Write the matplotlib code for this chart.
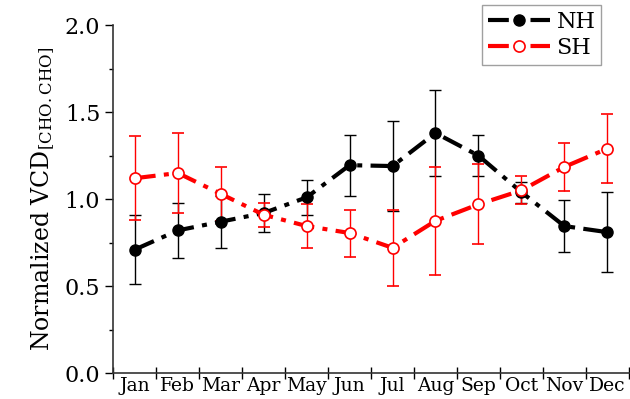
import numpy as np
import matplotlib
matplotlib.use('Agg')
import matplotlib.pyplot as plt
from matplotlib.ticker import MultipleLocator, FixedLocator, FormatStrFormatter
from matplotlib.lines import Line2D

months = ['Jan', 'Feb', 'Mar', 'Apr', 'May', 'Jun', 'Jul', 'Aug', 'Sep', 'Oct', 'Nov', 'Dec']
nh = [0.71, 0.82, 0.87, 0.92, 1.01, 1.195, 1.19, 1.38, 1.25, 1.04, 0.845, 0.81]
nh_err = [0.20, 0.16, 0.15, 0.11, 0.10, 0.175, 0.26, 0.25, 0.12, 0.06, 0.15, 0.23]
sh = [1.12, 1.15, 1.03, 0.91, 0.845, 0.805, 0.72, 0.875, 0.97, 1.05, 1.185, 1.29]
sh_err = [0.24, 0.23, 0.155, 0.07, 0.125, 0.135, 0.22, 0.31, 0.23, 0.08, 0.14, 0.20]

plt.rcParams['font.family'] = ['DejaVu Serif']
plt.rcParams['mathtext.fontset'] = 'dejavuserif'

fig = plt.figure(figsize=(6.3, 3.99), dpi=100)
ax = fig.add_axes([0.18, 0.065, 0.818, 0.872])

x = np.arange(len(months)) + 0.5
dash = (0, (5, 2, 1.2, 2))

ax.errorbar(x, nh, yerr=nh_err, color='black', ecolor='black', elinewidth=1.0,
            capsize=4, capthick=1.0, ls=dash, lw=3, marker='o', ms=8,
            mfc='black', mec='black', zorder=3)
ax.errorbar(x, sh, yerr=sh_err, color='red', ecolor='red', elinewidth=1.0,
            capsize=4, capthick=1.0, ls=dash, lw=3, marker='o', ms=8,
            mfc='white', mec='red', mew=1.2, zorder=3)

ax.set_xlim(0, 12)
ax.set_ylim(0, 2.0)
ax.xaxis.set_major_locator(FixedLocator(np.arange(0, 13)))
ax.xaxis.set_minor_locator(FixedLocator(x))
ax.set_xticklabels([])
ax.set_xticklabels(months, minor=True)
ax.tick_params(axis='x', which='major', direction='inout', length=8, width=1)
ax.tick_params(axis='x', which='minor', length=0, labelsize=13.5, pad=3)
ax.yaxis.set_major_locator(MultipleLocator(0.5))
ax.yaxis.set_minor_locator(MultipleLocator(0.25))
ax.yaxis.set_major_formatter(FormatStrFormatter('%.1f'))
ax.tick_params(axis='y', which='major', direction='out', length=6, width=1, labelsize=16)
ax.tick_params(axis='y', which='minor', direction='out', length=3, width=1)

for s in ['top', 'right']:
    ax.spines[s].set_visible(False)
for s in ['left', 'bottom']:
    ax.spines[s].set_color('#333333')
    ax.spines[s].set_linewidth(1.2)

ax.set_ylabel(r'Normalized VCD$_{\mathrm{[CHO.CHO]}}$', fontsize=17, labelpad=6)

handles = [Line2D([], [], color='black', ls=dash, lw=3, marker='o', ms=8, mfc='black', mec='black'),
           Line2D([], [], color='red', ls=dash, lw=3, marker='o', ms=8, mfc='white', mec='red', mew=1.2)]
leg = ax.legend(handles, ['NH', 'SH'], loc='upper right',
                bbox_to_anchor=(601 / 630, 1 - 5 / 399), bbox_transform=fig.transFigure,
                fontsize=16, fancybox=False, edgecolor='#888888', handlelength=2.8,
                borderpad=0.25, labelspacing=0.2, handletextpad=0.3, borderaxespad=0)
leg.get_frame().set_linewidth(1.0)

fig.savefig('out.png', dpi=100)
